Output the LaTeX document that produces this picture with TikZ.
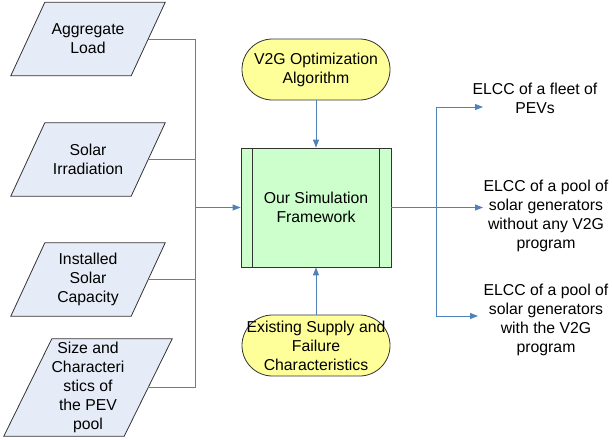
\documentclass[tikz,border=0pt]{standalone}
\usepackage{fontspec}
\setmainfont{Liberation Sans}
\usetikzlibrary{arrows.meta,backgrounds}
\definecolor{datafill}{HTML}{E6ECF7}
\definecolor{procfill}{HTML}{CCFFCC}
\definecolor{termfill}{HTML}{FFFF99}
\definecolor{linkblue}{HTML}{4F81BD}

\begin{document}
\begin{tikzpicture}[x=1pt,y=-1pt,>={Triangle[length=8pt,width=6pt]},
	font=\fontsize{15.8}{19}\selectfont,
	link/.style={draw=linkblue,line width=0.9pt},
	data node/.style={rectangle,minimum width=120pt,minimum height=73pt,align=center,inner sep=0pt},
	data shape/.style={draw=black!80,line width=0.8pt,fill=datafill},
	term node/.style={rectangle,rounded corners=30.5pt,draw=black!80,line width=0.8pt,
		fill=termfill,minimum width=148pt,minimum height=61pt,align=center,inner sep=0pt},
	proc node/.style={rectangle,draw=black!80,line width=0.8pt,fill=procfill,
		minimum width=150pt,minimum height=119pt,align=center},
	out node/.style={align=center,inner sep=0pt}]
	\useasboundingbox (0,0) rectangle (612,439);
	% inputs
	\node[data node] (agg) at (88,39) {Aggregate\\Load};
	\node[data node] (sol) at (88,159.5) {Solar\\Irradiation};
	\node[data node] (cap) at (88,279.5) {Installed\\Solar\\Capacity};
	\node[data node,minimum height=97pt] (pev) at (88,387.5)
		{Size and\\Characteri\\stics of\\the PEV\\pool};
	\begin{scope}[on background layer]
		\foreach \n/\d in {agg/17,sol/17,cap/17,pev/24}
			\draw[data shape] ([xshift=-\d pt]\n.south west) -- ([xshift=-\d pt]\n.south east)
				-- ([xshift=\d pt]\n.north east) -- ([xshift=\d pt]\n.north west) -- cycle;
	\end{scope}
	% core
	\node[proc node] (sim) at (316,207.5) {Our Simulation\\Framework};
	\draw[black!80,line width=0.8pt] ([xshift=12pt]sim.north west) -- ([xshift=12pt]sim.south west)
		([xshift=-12pt]sim.north east) -- ([xshift=-12pt]sim.south east);
	\node[term node] (opt) at (316,69.5) {V2G Optimization\\Algorithm};
	\node[term node] (sup) at (316,345.5) {Existing Supply and\\Failure\\Characteristics};
	% outputs
	\node[out node] (elcc1) at (535,98) {ELCC of a fleet of\\PEVs};
	\node[out node] (elcc2) at (546,216) {ELCC of a pool of\\solar generators\\without any V2G\\program};
	\node[out node] (elcc3) at (546,320) {ELCC of a pool of\\solar generators\\with the V2G\\program};
	\coordinate (busin) at (195,207.5);
	\coordinate (busout) at (436,207.5);
	\coordinate (in1) at (483,107);
	\coordinate (in2) at (483,207.5);
	\coordinate (in3) at (478,316);
	% connectors
	\draw[link] (agg.east) -| (busin);
	\draw[link] (sol.east) -| (busin);
	\draw[link] (cap.east) -| (busin);
	\draw[link] (pev.east) -| (busin);
	\draw[link,->] (busin) -- (sim.west);
	\draw[link,->] (opt) -- (sim);
	\draw[link,->] (sup) -- (sim);
	\draw[link] (sim.east) -- (busout);
	\draw[link,->] (busout) |- (in1);
	\draw[link,->] (busout) -- (in2);
	\draw[link,->] (busout) |- (in3);
\end{tikzpicture}
\end{document}
